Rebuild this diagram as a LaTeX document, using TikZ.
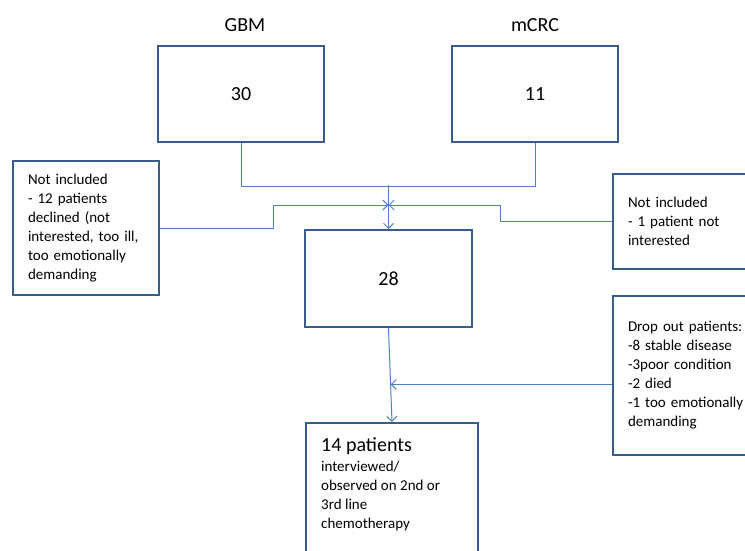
\documentclass[tikz,border=0pt]{standalone}
\usepackage{fontspec}
\setmainfont{Carlito}
\usetikzlibrary{arrows.meta,calc}
\definecolor{boxblue}{HTML}{385D8A}
\definecolor{linkblue}{HTML}{4F81C7}
\newcommand{\bodyfont}{\fontsize{15}{19}\selectfont}
\newcommand{\bigfont}{\fontsize{20}{24}\selectfont}
\begin{document}
\begin{tikzpicture}[x=1pt,y=-1pt,
  box/.style={draw=boxblue,line width=2pt,rectangle,inner sep=0pt},
  note/.style={box,align=left,inner xsep=15pt,anchor=north west,font=\bodyfont},
  link/.style={draw=linkblue,line width=1pt},
  arrow/.style={link,-{Straight Barb[length=5pt,width=10pt]}}]
 \clip (0,0) rectangle (745,551);
 \fill[white] (0,0) rectangle (745,551);
 % top boxes
 \node[box,minimum width=166,minimum height=96,font=\bigfont] (gbm) at (241,94) {30};
 \node[box,minimum width=166,minimum height=96,font=\bigfont] (mcrc) at (535,94) {11};
 \node[font=\bigfont] (gbmlab) at (245,25) {GBM};
 \node[font=\bigfont] (mcrclab) at (535,25) {mCRC};
 % exclusions
 \node[note,minimum width=146,minimum height=134,text width=116] (excl1) at (12,160)
  {Not included\\- 12 patients\\declined (not\\interested, too ill,\\too emotionally\\demanding};
 \node[note,minimum width=150,minimum height=95,text width=120] (excl2) at (612,173)
  {Not included\\- 1 patient not\\interested};
 \node[box,minimum width=167,minimum height=97,font=\bigfont] (b28) at (388.5,278.5) {\raisebox{-8pt}{28}};
 \node[note,minimum width=150,minimum height=159,text width=120] (drop) at (612,295)
  {Drop out patients:\\-8 stable disease\\-3poor condition\\-2 died\\-1 too emotionally\\demanding};
 % final box
 \node[box,anchor=north west,minimum width=172,minimum height=140] (final) at (305,422) {};
 \node[anchor=north west,align=left,inner sep=0pt,font=\bodyfont] (finaltxt) at (321,437)
  {{\bigfont 14 patients}\\[1pt]interviewed/\\observed on 2nd or\\3rd line\\chemotherapy};
 % connectors
 \coordinate (join) at (388.5,185);
 \coordinate (mid) at (388.5,205);
 \coordinate (tap) at ($(b28.south)!0.6!(final.north)$);
 \draw[link] (gbm.south) -- ++(0,43) -| (mcrc.south);
 \draw[arrow] (join) -- (b28.north);
 \draw[arrow] (excl1.east) -| (273,205) -- (mid);
 \draw[arrow] (excl2.west) -| (500,205) -- (mid);
 \draw[arrow] (b28.south) -- (final.north);
 \draw[arrow] (drop.west |- tap) -- (tap);
\end{tikzpicture}
\end{document}
